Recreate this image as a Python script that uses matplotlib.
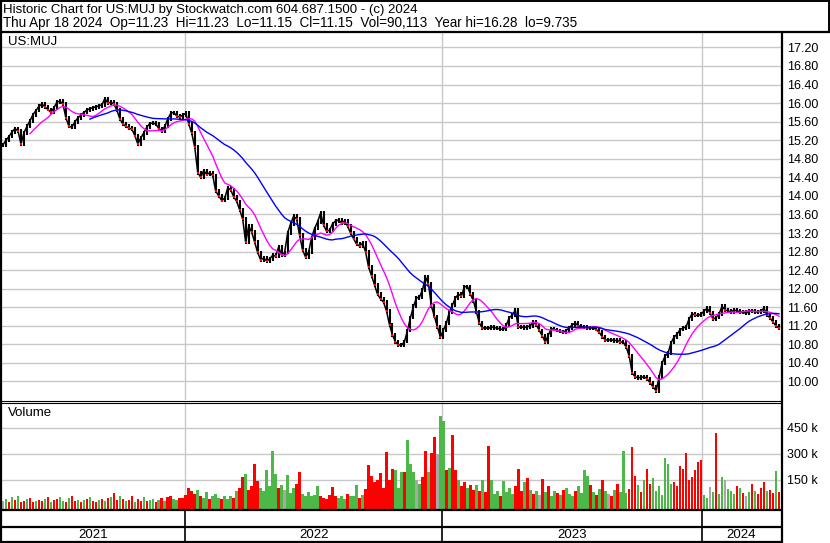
import numpy as np
import pandas as pd
import matplotlib
matplotlib.use('Agg')
import matplotlib.pyplot as plt

plt.rcParams['font.family'] = ['Liberation Sans', 'DejaVu Sans']

# closing prices, one value every 3 trading days (Apr 2021 .. Apr 18 2024)
closes = [
    15.10, 15.20, 15.28, 15.38, 15.45, 15.40, 15.12, 15.36, 15.50, 15.62,
    15.75, 15.84, 15.93, 15.98, 15.92, 15.86, 15.80, 15.90, 16.02, 16.04,
    15.98, 15.68, 15.50, 15.48, 15.60, 15.68, 15.74, 15.80, 15.85, 15.88,
    15.90, 15.92, 15.94, 15.96, 16.10, 16.00, 16.02, 15.98, 15.85, 15.66,
    15.55, 15.50, 15.46, 15.44, 15.30, 15.12, 15.25, 15.36, 15.48, 15.56,
    15.57, 15.55, 15.45, 15.40, 15.50, 15.66, 15.78, 15.80, 15.72, 15.70,
    15.74, 15.78, 15.55, 15.35, 15.05, 14.50, 14.40, 14.55, 14.46, 14.50,
    14.44, 14.10, 14.00, 13.90, 13.95, 14.17, 14.13, 13.98, 13.88, 13.70,
    13.50, 13.00, 13.35, 13.22, 13.00, 12.78, 12.62, 12.66, 12.60, 12.64,
    12.72, 12.70, 12.90, 12.72, 12.78, 13.20, 13.40, 13.56, 13.50, 13.15,
    12.83, 12.68, 12.79, 13.10, 13.30, 13.44, 13.63, 13.37, 13.24, 13.26,
    13.40, 13.46, 13.48, 13.42, 13.46, 13.35, 13.20, 13.08, 12.96, 12.92,
    12.98, 12.80, 12.47, 12.28, 12.08, 11.88, 11.78, 11.71, 11.52, 11.22,
    11.00, 10.85, 10.79, 10.78, 10.86, 11.10, 11.38, 11.62, 11.80, 11.82,
    11.97, 12.25, 12.10, 11.62, 11.40, 11.17, 10.96, 11.11, 11.26, 11.50,
    11.65, 11.80, 11.88, 11.84, 12.04, 12.05, 11.88, 11.74, 11.50, 11.26,
    11.15, 11.16, 11.14, 11.18, 11.16, 11.15, 11.13, 11.12, 11.22, 11.38,
    11.43, 11.54, 11.17, 11.18, 11.16, 11.18, 11.20, 11.28, 11.22, 11.10,
    10.98, 10.85, 11.00, 11.14, 11.12, 11.10, 11.08, 11.06, 11.10, 11.16,
    11.22, 11.26, 11.20, 11.18, 11.17, 11.16, 11.15, 11.16, 11.12, 11.06,
    10.96, 10.90, 10.89, 10.90, 10.88, 10.89, 10.85, 10.85, 10.74, 10.55,
    10.18, 10.10, 10.08, 10.09, 10.10, 10.06, 9.97, 9.88, 9.80, 10.10,
    10.40, 10.55, 10.62, 10.84, 10.96, 11.02, 11.12, 11.15, 11.18, 11.35,
    11.46, 11.43, 11.42, 11.45, 11.52, 11.58, 11.48, 11.34, 11.38, 11.46,
    11.62, 11.54, 11.52, 11.50, 11.54, 11.52, 11.50, 11.49, 11.47, 11.52,
    11.52, 11.50, 11.50, 11.52, 11.58, 11.43, 11.37, 11.28, 11.20, 11.15,
]

# volume in thousands, same sampling
volumes = [
    26, 43, 21, 51, 32, 60, 24, 28, 38, 49,
    22, 31, 35, 26, 40, 51, 24, 32, 43, 51,
    26, 21, 47, 60, 28, 35, 24, 32, 40, 53,
    26, 22, 33, 38, 31, 47, 51, 77, 32, 60,
    40, 26, 35, 56, 24, 43, 31, 51, 26, 32,
    38, 22, 35, 47, 28, 53, 56, 38, 32, 49,
    47, 66, 105, 88, 71, 94, 60, 49, 83, 43,
    55, 71, 49, 38, 60, 43, 55, 49, 88, 105,
    168, 185, 94, 117, 241, 145, 105, 88, 207, 117,
    315, 185, 105, 122, 94, 179, 77, 105, 128, 196,
    71, 60, 83, 55, 66, 117, 60, 49, 43, 66,
    111, 55, 49, 60, 43, 71, 55, 60, 122, 49,
    66, 100, 236, 173, 139, 151, 190, 105, 309, 151,
    213, 207, 105, 196, 196, 383, 241, 196, 151, 128,
    168, 320, 196, 303, 400, 298, 520, 493, 207, 219,
    411, 207, 151, 117, 139, 105, 122, 94, 122, 88,
    151, 83, 349, 151, 71, 88, 60, 145, 83, 105,
    71, 117, 213, 88, 139, 162, 94, 71, 88, 66,
    156, 83, 117, 60, 88, 77, 66, 94, 105, 71,
    60, 88, 117, 77, 207, 173, 122, 83, 66, 100,
    151, 88, 71, 60, 94, 128, 83, 320, 77, 100,
    343, 173, 122, 83, 151, 213, 128, 162, 88, 117,
    66, 275, 241, 128, 139, 117, 230, 213, 303, 151,
    168, 207, 252, 264, 66, 49, 111, 83, 422, 71,
    168, 151, 100, 88, 71, 117, 105, 77, 60, 83,
    128, 88, 71, 105, 139, 88, 94, 77, 202, 83,
]

# volume bar colour: g = up, r = down, n = unchanged
vol_dir = (
    'ngrgrgrrgr' 'rgrrgrgrrg' 'grgrrgrgrg' 'rrgrgrgrrg' 'rgrrgrrgrg'
    'grgrgrrggr' 'rrrrrgrggr' 'gggrgggrgr' 'rgrrrrgggg' 'ggrgngggrr'
    'ggggggrrrr' 'rrgggrgggr' 'grrrrrrrrr' 'rgggrgggng' 'rrgrrnggrg'
    'rrgrrgrrgr' 'grrgggrggg' 'grrrgrgrgn' 'rgrggrgrgg' 'grggggrgrg'
    'rgnrgrgggr' 'rrgrgrrggg' 'ggggrrrrrr' 'rrrrggngrg' 'gngggrgrng'
    'rgrrrgrrgr'
)

year_starts = [184, 442, 702]        # trading-day index where each year begins
year_labels = ['2021', '2022', '2023', '2024']
n_days = 781
price_ticks = [10.00, 10.40, 10.80, 11.20, 11.60, 12.00, 12.40, 12.80, 13.20,
               13.60, 14.00, 14.40, 14.80, 15.20, 15.60, 16.00, 16.40, 16.80, 17.20]
vol_ticks = [150, 300, 450]

header1 = 'Historic Chart for US:MUJ by Stockwatch.com 604.687.1500 - (c) 2024'
header2 = ('Thu Apr 18 2024  Op=11.23  Hi=11.23  Lo=11.15  Cl=11.15  '
           'Vol=90,113  Year hi=16.28  lo=9.735')

W, H = 830, 543
GRID = '#c8c8c8'
fig = plt.figure(figsize=(W / 100, H / 100), dpi=100)
fig.patch.set_facecolor('white')


def px_axes(l, t, r, b):
    return fig.add_axes([l / W, 1 - b / H, (r - l) / W, (b - t) / H])


c = np.array(closes)
v = np.array(volumes, dtype=float)
days = 2 + 3 * np.arange(len(c))
prev = np.r_[c[0], c[:-1]]

# ---- price panel
ax_p = px_axes(1, 32, 781, 400)
ax_p.set_xlim(0, n_days)
ax_p.set_ylim(9.601, 17.532)
for s in ax_p.spines.values():
    s.set_visible(False)
ax_p.set_xticks([])
ax_p.yaxis.tick_right()
ax_p.set_yticks(price_ticks)
ax_p.set_yticklabels([f'{t:.2f}' for t in price_ticks])
ax_p.tick_params(axis='y', length=0, pad=4.5, labelsize=9)
ax_p.grid(axis='y', color=GRID, lw=1)
for ys in year_starts:
    ax_p.axvline(ys, color=GRID, lw=1)

lo = np.minimum(prev, c) - 0.04
hi = np.maximum(prev, c) + 0.04
ax_p.vlines(days, lo, hi, color='black', lw=1.5, zorder=2)
ax_p.plot(days, c, color='black', lw=1.1, zorder=2)
down = c < prev - 0.02
ax_p.plot(days[down], c[down], 's', color='red', ms=1.8, mew=0, zorder=2.5)

ma_fast = pd.Series(c).rolling(10).mean()
ma_slow = pd.Series(c).rolling(30).mean()
ax_p.plot(days, ma_fast, color='#ff00ff', lw=1, zorder=3)
ax_p.plot(days, ma_slow, color='#0000ff', lw=1, zorder=3)

# ---- volume panel (zero sits 4 px above the panel floor)
vol_floor = -23.1
ax_v = px_axes(1, 402, 781, 510)
ax_v.set_xlim(0, n_days)
ax_v.set_ylim(vol_floor, 600)
for s in ax_v.spines.values():
    s.set_visible(False)
ax_v.set_xticks([])
ax_v.yaxis.tick_right()
ax_v.set_yticks(vol_ticks)
ax_v.set_yticklabels([f'{t} k' for t in vol_ticks])
ax_v.tick_params(axis='y', length=0, pad=4.5, labelsize=9)
ax_v.grid(axis='y', color=GRID, lw=1)
for ys in year_starts:
    ax_v.axvline(ys, color=GRID, lw=1)
cmap = {'g': '#4cb848', 'r': '#ff0000', 'n': '#a8a8a8'}
colors = [cmap[d] for d in vol_dir]
ax_v.bar(days, v - vol_floor, bottom=vol_floor, width=2.6, color=colors,
         lw=0, zorder=2)

# ---- year band
ax_x = px_axes(1, 510, 781, 543)
ax_x.set_xlim(0, n_days)
ax_x.set_ylim(0, 1)
ax_x.axis('off')
for ys in year_starts:
    ax_x.axvline(ys, color='black', lw=1.2)
bounds = [0] + year_starts + [n_days]
for i, lab in enumerate(year_labels):
    ax_x.text((bounds[i] + bounds[i + 1]) / 2, 0.25, lab, ha='center',
              va='center', fontsize=9.5)

# ---- frame and header
ov = fig.add_axes([0, 0, 1, 1], zorder=10)
ov.set_xlim(0, W)
ov.set_ylim(H, 0)
ov.axis('off')
ov.patch.set_alpha(0)
k = dict(color='black', solid_capstyle='butt')
ov.plot([0, W], [0.7, 0.7], lw=1.4, **k)
ov.plot([0, W], [31.5, 31.5], lw=1.6, **k)
ov.plot([1, 1], [0, H], lw=1.6, **k)
ov.plot([828.5, 828.5], [0, 31.5], lw=1.4, **k)
ov.plot([782, 782], [31.5, H], lw=1.6, **k)
ov.plot([0, 782], [400.5, 400.5], lw=0.8, **k)
ov.plot([0, 782], [402.5, 402.5], lw=0.8, **k)
ov.plot([0, 782], [510, 510], lw=1.6, **k)
ov.plot([0, 782], [527, 527], lw=1.6, **k)
ov.plot([0, 782], [542, 542], lw=1.6, **k)

ov.text(3, 10.5, header1, fontsize=9.5, va='center', ha='left')
ov.text(3, 23.5, header2, fontsize=9.75, va='center', ha='left')
ov.text(8, 42, 'US:MUJ', fontsize=9.5, va='center', ha='left')
ov.text(8, 413, 'Volume', fontsize=9.5, va='center', ha='left')

fig.savefig('out.png', dpi=100)
